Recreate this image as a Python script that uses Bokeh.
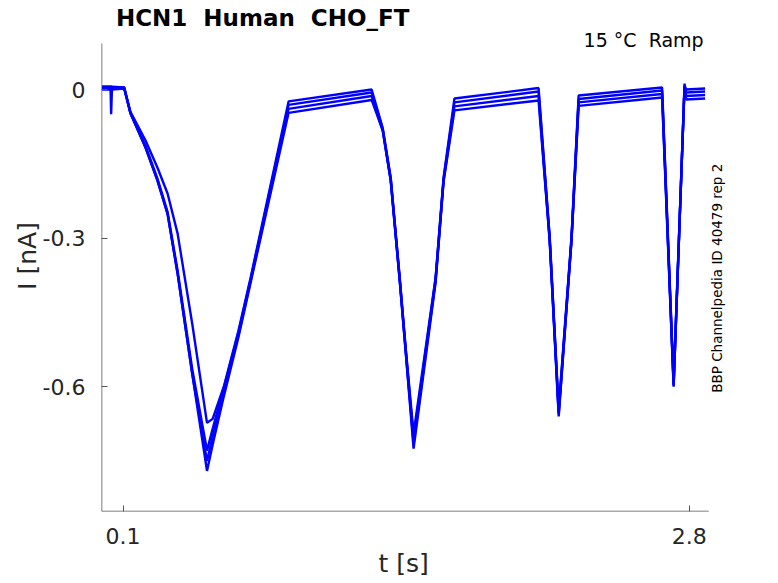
import math
from bokeh.plotting import figure
from bokeh.models import Range1d, Label, FixedTicker, Title
from bokeh.embed import file_html
from bokeh.resources import INLINE

# ---- data ----
t_s = [0.000, 0.040, 0.043, 0.047, 0.105, 0.135, 0.207, 0.264, 0.312, 0.360,
       0.430, 0.500, 0.527, 0.580, 0.650, 0.708, 0.889, 1.285, 1.338, 1.376,
       1.419, 1.447, 1.485, 1.590, 1.628, 1.680, 2.081, 2.134, 2.177, 2.238,
       2.272, 2.670, 2.725, 2.777, 2.785, 2.875]

I_sweep1 = [0.004, 0.004, -0.050, 0.004, 0.004, -0.048, -0.117, -0.184, -0.251, -0.372,
            -0.575, -0.770, -0.717, -0.620, -0.500, -0.390, -0.047, -0.021, -0.083, -0.184,
            -0.386, -0.527, -0.725, -0.390, -0.186, -0.042, -0.022, -0.305, -0.660, -0.305,
            -0.033, -0.016, -0.600, 0.012, -0.020, -0.018]
I_sweep2 = [0.000, 0.000, 0.000, 0.000, 0.002, -0.048, -0.117, -0.184, -0.251, -0.372,
            -0.575, -0.750, -0.700, -0.612, -0.495, -0.386, -0.039, -0.013, -0.083, -0.184,
            -0.386, -0.527, -0.715, -0.386, -0.184, -0.034, -0.013, -0.305, -0.655, -0.305,
            -0.026, -0.009, -0.598, 0.004, -0.013, -0.011]
I_sweep3 = [0.006, 0.006, 0.006, 0.006, 0.004, -0.047, -0.114, -0.180, -0.247, -0.366,
            -0.565, -0.729, -0.685, -0.603, -0.490, -0.383, -0.031, -0.006, -0.080, -0.180,
            -0.382, -0.522, -0.705, -0.382, -0.181, -0.026, -0.004, -0.300, -0.650, -0.301,
            -0.019, -0.002, -0.595, 0.006, -0.006, -0.004]
I_sweep4 = [0.002, 0.002, 0.002, 0.002, 0.004, -0.045, -0.103, -0.158, -0.210, -0.291,
            -0.474, -0.673, -0.665, -0.600, -0.487, -0.380, -0.024, 0.000, -0.078, -0.178,
            -0.380, -0.520, -0.695, -0.380, -0.178, -0.018, 0.003, -0.297, -0.645, -0.298,
            -0.012, 0.004, -0.590, 0.008, 0.000, 0.002]
sweeps = [I_sweep1, I_sweep2, I_sweep3, I_sweep4]

x_ticks = [0.1, 2.8]
x_tick_labels = ["0.1", "2.8"]
y_ticks = [0.0, -0.3, -0.6]
y_tick_labels = ["0", "-0.3", "-0.6"]

# axes box of the original chart (data units)
x_axis_min, x_axis_max = -0.003, 2.892
y_axis_min, y_axis_max = -0.852, 0.093

NB = "\u00a0"
title_text = "HCN1" + NB + " Human" + NB + " CHO_FT"
cond_text = "15 \u00b0C" + NB + " Ramp"
side_text = "BBP Channelpedia ID 40479 rep 2"
x_label = "t [s]"
y_label = "I [nA]"

FONT = "DejaVu Sans"
GREY = "#262626"
AXIS_GREY = "#555555"

# frame extends to the top/right page edges so the annotations are not clipped
p = figure(width=778, height=583, output_backend="svg", toolbar_location=None,
           x_range=Range1d(x_axis_min, 3.225), y_range=Range1d(y_axis_min, 0.1798),
           min_border_left=101, min_border_right=0, min_border_top=0,
           min_border_bottom=72)
p.outline_line_color = None
p.xgrid.visible = False
p.ygrid.visible = False
p.background_fill_color = "white"
p.border_fill_color = "white"

# visible axis lines limited to the original axes box
p.segment(x0=[x_axis_min, x_axis_min], y0=[y_axis_min, y_axis_min],
          x1=[x_axis_min, x_axis_max], y1=[y_axis_max, y_axis_min],
          line_color=AXIS_GREY, line_width=1.5)

for sw in sweeps:
    p.line(t_s, sw, line_color="#0000FF", line_width=2.4)

for ax, ticks, labels in ((p.xaxis[0], x_ticks, x_tick_labels),
                          (p.yaxis[0], y_ticks, y_tick_labels)):
    ax.ticker = FixedTicker(ticks=ticks)
    ax.major_label_overrides = {t: l for t, l in zip(ticks, labels)}
    ax.major_tick_in = 6
    ax.major_tick_out = 0
    ax.minor_tick_line_color = None
    ax.axis_line_color = None
    ax.major_tick_line_color = AXIS_GREY
    ax.major_label_text_font = FONT
    ax.major_label_text_font_size = "22px"
    ax.major_label_text_color = GREY
    ax.axis_label_text_font = FONT
    ax.axis_label_text_font_size = "25px"
    ax.axis_label_text_font_style = "normal"
    ax.axis_label_text_color = GREY

p.yaxis.axis_label = y_label
p.xaxis.major_label_standoff = 16
p.yaxis.major_label_standoff = 16
p.yaxis.axis_label_standoff = -2

# x-axis label as a title below, centred on the original axes box
p.add_layout(Title(text=x_label, align="left", offset=277, standoff=0,
                   text_font=FONT, text_font_size="25px",
                   text_font_style="normal", text_color=GREY), "below")

p.add_layout(Label(x=0.066, y=0.145, text=title_text, text_font=FONT,
                   text_font_size="23px", text_font_style="bold",
                   text_color="black", text_align="left",
                   text_baseline="alphabetic"))
p.add_layout(Label(x=2.868, y=0.100, text=cond_text, text_font=FONT,
                   text_font_size="19px", text_color="black",
                   text_align="right", text_baseline="alphabetic"))
p.add_layout(Label(x=2.934, y=-0.381, text=side_text, text_font=FONT,
                   text_font_size="13.5px", text_color="black", angle=math.pi / 2,
                   text_align="center", text_baseline="middle"))

open("out.html", "w").write(file_html(p, INLINE))
